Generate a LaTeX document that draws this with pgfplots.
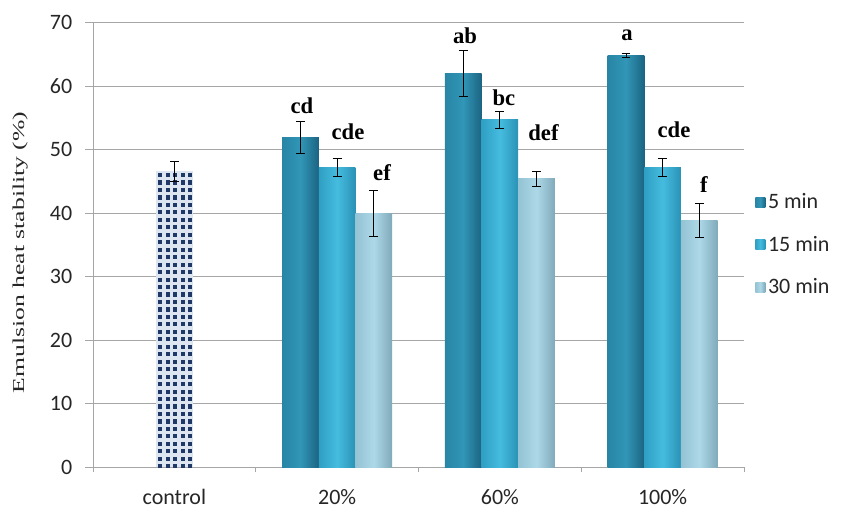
\documentclass[border=0pt]{standalone}
\usepackage{pgfplots}
\pgfplotsset{compat=1.18}
\usepackage{fontspec}
\usepackage{graphicx}
\setmainfont{Carlito}
\newfontfamily\timesfont{Liberation Serif}
\usetikzlibrary{patterns}

\definecolor{gridgray}{HTML}{A6A6A6}
\definecolor{txt}{HTML}{262626}
% 5 min
\definecolor{fiveL}{HTML}{2885A5}
\definecolor{fiveM}{HTML}{3196B7}
\definecolor{fiveR}{HTML}{1C6482}
% 15 min
\definecolor{fifL}{HTML}{2F9FC3}
\definecolor{fifM}{HTML}{45BCDF}
\definecolor{fifR}{HTML}{2A92B5}
% 30 min
\definecolor{thiL}{HTML}{94C3D3}
\definecolor{thiM}{HTML}{ADD8E8}
\definecolor{thiR}{HTML}{80AABA}
% control
\definecolor{ctrlbg}{HTML}{DCE5F0}
\definecolor{ctrlnavy}{HTML}{1F3866}

\pgfdeclarepatternformonly{navysquares}{\pgfqpoint{-0.1pt}{-0.1pt}}{\pgfqpoint{5.7pt}{5.7pt}}{\pgfqpoint{5.6pt}{5.6pt}}%
{\pgfpathrectangle{\pgfqpoint{1pt}{1pt}}{\pgfqpoint{3.1pt}{3.1pt}}\pgfusepath{fill}}

\newcommand{\lbl}{\timesfont\bfseries\fontsize{17}{20}\selectfont}

\pgfplotsset{
  barbase/.style={ybar, bar width=0.2255, bar shift=0, draw=none,
    error bars/y dir=both, error bars/y explicit},
  five/.style={barbase, left color=fiveL, right color=fiveR, middle color=fiveM},
  fifteen/.style={barbase, left color=fifL, right color=fifR, middle color=fifM},
  thirty/.style={barbase, left color=thiL, right color=thiR, middle color=thiM},
}

\begin{document}
\begin{tikzpicture}
\useasboundingbox (0,0) rectangle (631.5pt,380.25pt);
\begin{axis}[
  at={(69.75pt,30pt)}, anchor=south west,
  scale only axis, width=488.25pt, height=333.2pt,
  xmin=-0.5, xmax=3.5, ymin=0, ymax=70,
  ytick={0,10,...,70},
  xtick={0,1,2,3},
  xticklabels={control,20\%,60\%,100\%},
  minor xtick={-0.5,0.5,1.5,2.5,3.5},
  axis lines=left,
  axis line style={-, gridgray, line width=0.75pt},
  ymajorgrids,
  grid style={gridgray, line width=0.75pt},
  tick align=outside,
  major tick length=6pt,
  minor tick length=4pt,
  major x tick style={draw=none},
  minor x tick style={gridgray, line width=0.75pt},
  major y tick style={gridgray, line width=0.75pt},
  /pgf/number format/assume math mode=true,
  ticklabel style={font=\fontsize{16.5}{19.8}\selectfont, text=txt},
  xticklabel style={yshift=-7pt},
  yticklabel style={xshift=-6pt},
  ylabel={\scalebox{1.54}[1]{Emulsion heat stability (\%)}},
  ylabel style={font=\timesfont\fontsize{12.5}{15}\selectfont, text=txt,
    at={(axis description cs:-0.112,0.483)}, anchor=center},
  legend style={draw=none, fill=none, at={(axis description cs:1.017,0.5)},
    anchor=west, font=\fontsize{16.5}{19.8}\selectfont, text=txt,
    row sep=15pt, inner sep=0pt},
  legend cell align=left,
  legend image code/.code={\path[#1, draw=none] (0pt,-3.75pt) rectangle (7.5pt,3.75pt);},
  error bars/error bar style={black, line width=0.6pt},
  error bars/error mark options={black, line width=0.6pt, mark size=3.3pt, rotate=90},
]
% control sample
\addplot[barbase, fill=ctrlbg,
  postaction={pattern=navysquares, pattern color=ctrlnavy}, forget plot]
  coordinates {(0,46.6) +- (0,1.6)};
% 5 min bars (left of each group)
\addplot[five] coordinates {(0.7745,51.9) +- (0,2.5)};
\addlegendentry{5 min}
% 15 min bars (centre of each group)
\addplot[fifteen] coordinates {(1,47.2) +- (0,1.4)};
\addlegendentry{15 min}
% 30 min bars (right of each group)
\addplot[thirty] coordinates {(1.2255,40.0) +- (0,3.6)};
\addlegendentry{30 min}
% remaining bars, one path each so every bar gets its own shading
\addplot[five, forget plot]    coordinates {(1.7745,62.05) +- (0,3.65)};
\addplot[fifteen, forget plot] coordinates {(2,54.7) +- (0,1.3)};
\addplot[thirty, forget plot]  coordinates {(2.2255,45.45) +- (0,1.2)};
\addplot[five, forget plot]    coordinates {(2.7745,64.9) +- (0,0.3)};
\addplot[fifteen, forget plot] coordinates {(3,47.25) +- (0,1.4)};
\addplot[thirty, forget plot]  coordinates {(3.2255,38.9) +- (0,2.7)};
% significance letters
\node[font=\lbl, anchor=base] at (axis cs:0.784,55.7) {cd};
\node[font=\lbl, anchor=base] at (axis cs:1.067,51.6) {cde};
\node[font=\lbl, anchor=base] at (axis cs:1.276,45.2) {ef};
\node[font=\lbl, anchor=base] at (axis cs:1.786,66.8) {ab};
\node[font=\lbl, anchor=base] at (axis cs:2.025,57.0) {bc};
\node[font=\lbl, anchor=base] at (axis cs:2.268,51.5) {def};
\node[font=\lbl, anchor=base] at (axis cs:2.781,67.2) {a};
\node[font=\lbl, anchor=base] at (axis cs:3.070,51.9) {cde};
\node[font=\lbl, anchor=base] at (axis cs:3.254,43.3) {f};
\end{axis}
\end{tikzpicture}
\end{document}
